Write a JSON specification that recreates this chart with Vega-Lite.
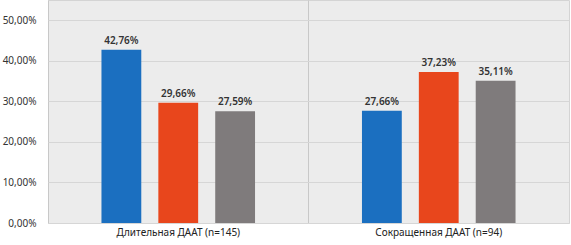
{
  "$schema": "https://vega.github.io/schema/vega-lite/v6.json",
  "autosize": "none",
  "width": 521,
  "height": 223,
  "padding": {"left": 48, "top": 0, "right": 2, "bottom": 22},
  "background": "#ffffff",
  "config": {
    "font": "Noto Sans",
    "view": {"fill": "#ececec", "stroke": "#d4d4d4"},
    "locale": {"number": {"decimal": ",", "thousands": " ", "grouping": [3], "currency": ["", " ₽"]}}
  },
  "data": {
    "values": [
      {"group": "Длительная ДААТ (n=145)", "s": "1", "v": 0.4276},
      {"group": "Длительная ДААТ (n=145)", "s": "2", "v": 0.2966},
      {"group": "Длительная ДААТ (n=145)", "s": "3", "v": 0.2759},
      {"group": "Сокращенная ДААТ (n=94)", "s": "1", "v": 0.2766},
      {"group": "Сокращенная ДААТ (n=94)", "s": "2", "v": 0.3723},
      {"group": "Сокращенная ДААТ (n=94)", "s": "3", "v": 0.3511}
    ]
  },
  "encoding": {
    "x": {
      "field": "group", "type": "nominal", "sort": null,
      "scale": {"paddingInner": 0, "paddingOuter": 0},
      "axis": {
        "title": null, "labelAngle": 0, "domain": false, "ticks": false,
        "grid": true, "bandPosition": 0, "gridColor": "#c8c8c8", "gridWidth": 1,
        "labelFontSize": 10, "labelColor": "#222222", "labelPadding": 9,
        "labelAlign": "center", "labelBaseline": "middle"
      }
    },
    "xOffset": {
      "field": "s", "type": "nominal",
      "scale": {"paddingInner": 0.3, "paddingOuter": 0.94}
    },
    "y": {
      "field": "v", "type": "quantitative",
      "scale": {"domain": [0, 0.55], "nice": false},
      "axis": {
        "title": null, "values": [0, 0.1, 0.2, 0.3, 0.4, 0.5],
        "format": ".2%",
        "domain": false, "ticks": false, "gridColor": "#d6d6d6",
        "labelFontSize": 10, "labelColor": "#333333", "labelPadding": 12
      }
    }
  },
  "layer": [
    {
      "mark": {"type": "bar"},
      "encoding": {
        "color": {
          "field": "s", "type": "nominal", "legend": null,
          "scale": {"domain": ["1", "2", "3"], "range": ["#1b6fc0", "#e8461c", "#7f7b7c"]}
        }
      }
    },
    {
      "mark": {"type": "text", "dy": -9, "fontSize": 10, "fontWeight": 600, "color": "#333333"},
      "encoding": {
        "text": {"field": "v", "type": "quantitative", "format": ".2%"}
      }
    }
  ]
}
